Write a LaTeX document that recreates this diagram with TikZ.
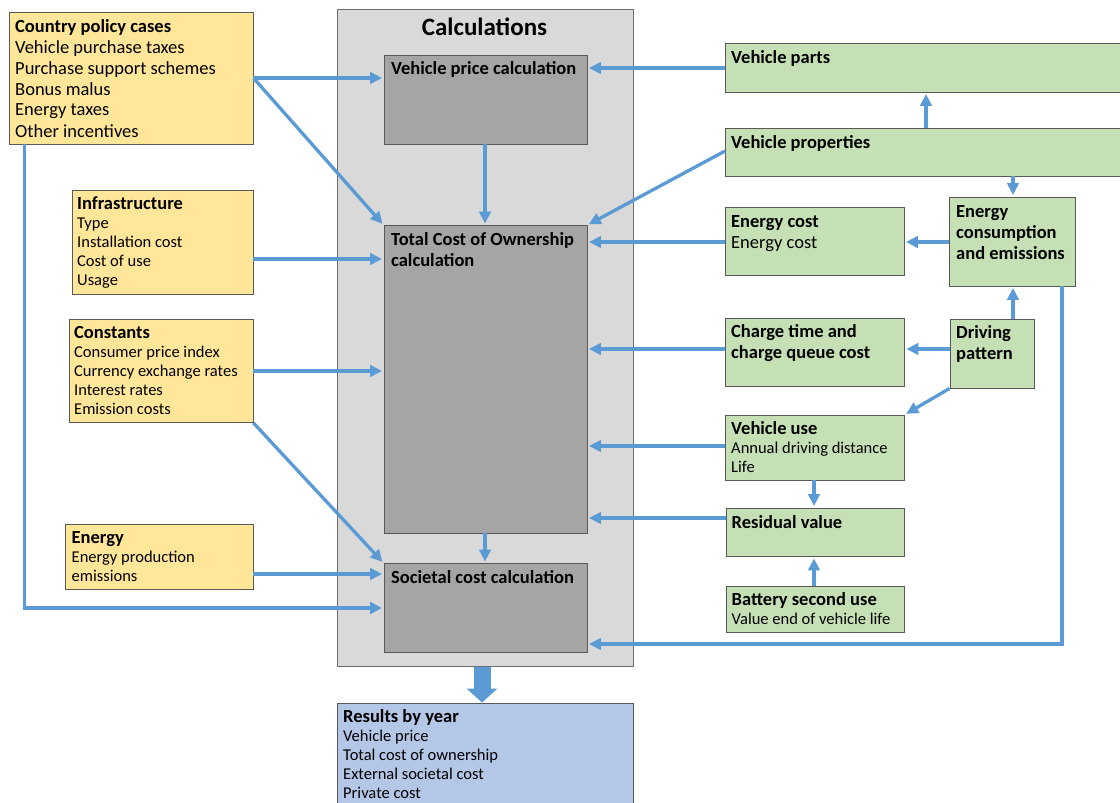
\documentclass[tikz,border=0pt]{standalone}
\usepackage{fontspec}
\setmainfont{Carlito}
\usetikzlibrary{arrows.meta,fit}

\definecolor{ylw}{HTML}{FFE699}
\definecolor{grn}{HTML}{C5E0B4}
\definecolor{blu}{HTML}{B4C7E7}
\definecolor{calcbg}{HTML}{D9D9D9}
\definecolor{calcbox}{HTML}{A5A5A5}
\definecolor{flow}{HTML}{5B9BD5}
\definecolor{edge}{HTML}{595959}

% font sizes used in the boxes
\newcommand{\bigtxt}{\fontsize{18.5}{21}\selectfont}
\newcommand{\mixtxt}{\fontsize{18.5}{19}\selectfont}
\newcommand{\smtxt}{\fontsize{16.5}{19}\selectfont}
% top-aligned block of lines: node baseline = first line
\newcommand{\boxlines}[1]{\parbox[t]{300pt}{#1}}

\tikzset{
  frame/.style={inner sep=0pt, draw=edge, line width=0.9pt},
  inbox/.style={frame, fill=ylw},
  modbox/.style={frame, fill=grn},
  calcstep/.style={frame, fill=calcbox},
  resbox/.style={frame, fill=blu},
  txt/.style={anchor=base west, inner sep=0pt},
  arr/.style={draw=flow, line width=3.3pt, shorten >=1.5pt, -{Triangle[length=12pt,width=11.5pt]}},
}

\begin{document}
\begin{tikzpicture}[x=1pt,y=-1pt]
\clip (0,0) rectangle (1120,803);
\fill[white] (0,0) rectangle (1120,803);

% calculation block
\node[frame, fill=calcbg, draw=gray!85!black, fit={(337.5,9.5) (633.5,666.5)}] (calc) {};
\node[anchor=base, inner sep=0pt, font=\bfseries\fontsize{25}{30}\selectfont] (calc-t) at (484.5,35) {Calculations};
\node[calcstep, fit={(384,55) (587,144)}] (vp) {};
\node[calcstep, fit={(384,225.5) (587,533)}] (tco) {};
\node[calcstep, fit={(384,563.5) (587,652.5)}] (soc) {};
\node[txt] (vp-t) at (391,74.5) {\boxlines{\bigtxt\textbf{Vehicle price calculation}}};
\node[txt] (tco-t) at (391,245.5) {\boxlines{\bigtxt\textbf{Total Cost of Ownership}\\\textbf{calculation}}};
\node[txt] (soc-t) at (391,583.5) {\boxlines{\bigtxt\textbf{Societal cost calculation}}};

% inputs on the left
\node[inbox, fit={(9.5,12) (253,144)}] (cpc) {};
\node[txt] (cpc-t) at (15,32) {\boxlines{\bigtxt\textbf{Country policy cases}\\Vehicle purchase taxes\\Purchase support schemes\\Bonus malus\\Energy taxes\\Other incentives}};
\node[inbox, fit={(72,190.5) (253,294)}] (infra) {};
\node[txt] (infra-t) at (77,209.5) {\boxlines{\mixtxt\textbf{Infrastructure}\\\smtxt Type\\Installation cost\\Cost of use\\Usage}};
\node[inbox, fit={(69,319.5) (253,422.5)}] (const) {};
\node[txt] (const-t) at (74,338.5) {\boxlines{\mixtxt\textbf{Constants}\\\smtxt Consumer price index\\Currency exchange rates\\Interest rates\\Emission costs}};
\node[inbox, fit={(65.5,524) (253,589)}] (energy) {};
\node[txt] (energy-t) at (71.5,543.5) {\boxlines{\mixtxt\textbf{Energy}\\\smtxt Energy production\\emissions}};

% vehicle and usage modules on the right
\node[modbox, fit={(725.5,43.5) (1130,92)}] (vparts) {};
\node[txt] (vparts-t) at (731,63.5) {\boxlines{\bigtxt\textbf{Vehicle parts}}};
\node[modbox, fit={(725.5,128) (1130,176)}] (vprops) {};
\node[txt] (vprops-t) at (731,148) {\boxlines{\bigtxt\textbf{Vehicle properties}}};
\node[modbox, fit={(725.5,207.5) (904,275.5)}] (ecost) {};
\node[txt] (ecost-t) at (731,227.5) {\boxlines{\bigtxt\textbf{Energy cost}\\Energy cost}};
\node[modbox, fit={(949.5,197) (1075.5,286)}] (econs) {};
\node[txt] (econs-t) at (956,217) {\boxlines{\bigtxt\textbf{Energy}\\\textbf{consumption}\\\textbf{and emissions}}};
\node[modbox, fit={(725.5,318) (904.5,386.5)}] (charge) {};
\node[txt] (charge-t) at (731,337) {\boxlines{\bigtxt\textbf{Charge time and}\\\textbf{charge queue cost}}};
\node[modbox, fit={(950,319) (1034,388)}] (drive) {};
\node[txt] (drive-t) at (956,338.5) {\boxlines{\bigtxt\textbf{Driving}\\\textbf{pattern}}};
\node[modbox, fit={(725.5,415) (904.5,480)}] (vuse) {};
\node[txt] (vuse-t) at (731,434.5) {\boxlines{\mixtxt\textbf{Vehicle use}\\\smtxt Annual driving distance\\Life}};
\node[modbox, fit={(726,508) (904.5,556.5)}] (resid) {};
\node[txt] (resid-t) at (731.5,528) {\boxlines{\bigtxt\textbf{Residual value}}};
\node[modbox, fit={(726,586) (904.5,632)}] (batt) {};
\node[txt] (batt-t) at (731.5,605.5) {\boxlines{\mixtxt\textbf{Battery second use}\\\smtxt Value end of vehicle life}};

% output
\node[resbox, fit={(337.5,703) (633.5,830)}] (res) {};
\node[txt] (res-t) at (343,722) {\boxlines{\mixtxt\textbf{Results by year}\\\smtxt Vehicle price\\Total cost of ownership\\External societal cost\\Private cost}};

% flows from the inputs
\draw[arr] (cpc.east |- 0,78) -- (vp.west |- 0,78);
\draw[arr] (cpc.east |- 0,78) -- (tco.north west);
\draw[arr] (cpc.south -| 24.5,0) |- (soc.west |- 0,608);
\draw[arr] (infra.east |- 0,259) -- (tco.west |- 0,259);
\draw[arr] (const.east |- 0,371) -- (tco.west |- 0,371);
\draw[arr] (const.south east) -- (soc.north west);
\draw[arr] (energy.east |- 0,574) -- (soc.west |- 0,574);

% flows inside the calculation block
\draw[arr] (vp.south -| 485,0) -- (tco.north -| 485,0);
\draw[arr] (tco.south -| 485,0) -- (soc.north -| 485,0);

% flows from the modules
\draw[arr] (vparts.west |- 0,68) -- (vp.east |- 0,68);
\draw[arr] (vprops.west |- 0,151) -- (tco.north east);
\draw[arr] (vprops.north -| 926,0) -- (vparts.south -| 926,0);
\draw[arr] (vprops.south -| 1013,0) -- (econs.north -| 1013,0);
\draw[arr] (econs.west |- 0,242) -- (ecost.east |- 0,242);
\draw[arr] (ecost.west |- 0,242) -- (tco.east |- 0,242);
\draw[arr] (drive.north -| 1013,0) -- (econs.south -| 1013,0);
\draw[arr] (econs.south -| 1062,0) |- (soc.east |- 0,644);
\draw[arr] (drive.west |- 0,349) -- (charge.east |- 0,349);
\draw[arr] (charge.west |- 0,349) -- (tco.east |- 0,349);
\draw[arr] (drive.south west) -- (vuse.north east);
\draw[arr] (vuse.west |- 0,446) -- (tco.east |- 0,446);
\draw[arr] (vuse.south -| 814,0) -- (resid.north -| 814,0);
\draw[arr] (resid.west |- 0,518) -- (tco.east |- 0,518);
\draw[arr] (batt.north -| 814,0) -- (resid.south -| 814,0);

% results
\draw[draw=flow, line width=17pt, -{Triangle[length=14pt,width=30pt]}] (calc.south -| 482,0) -- (res.north -| 482,0);
\end{tikzpicture}
\end{document}
